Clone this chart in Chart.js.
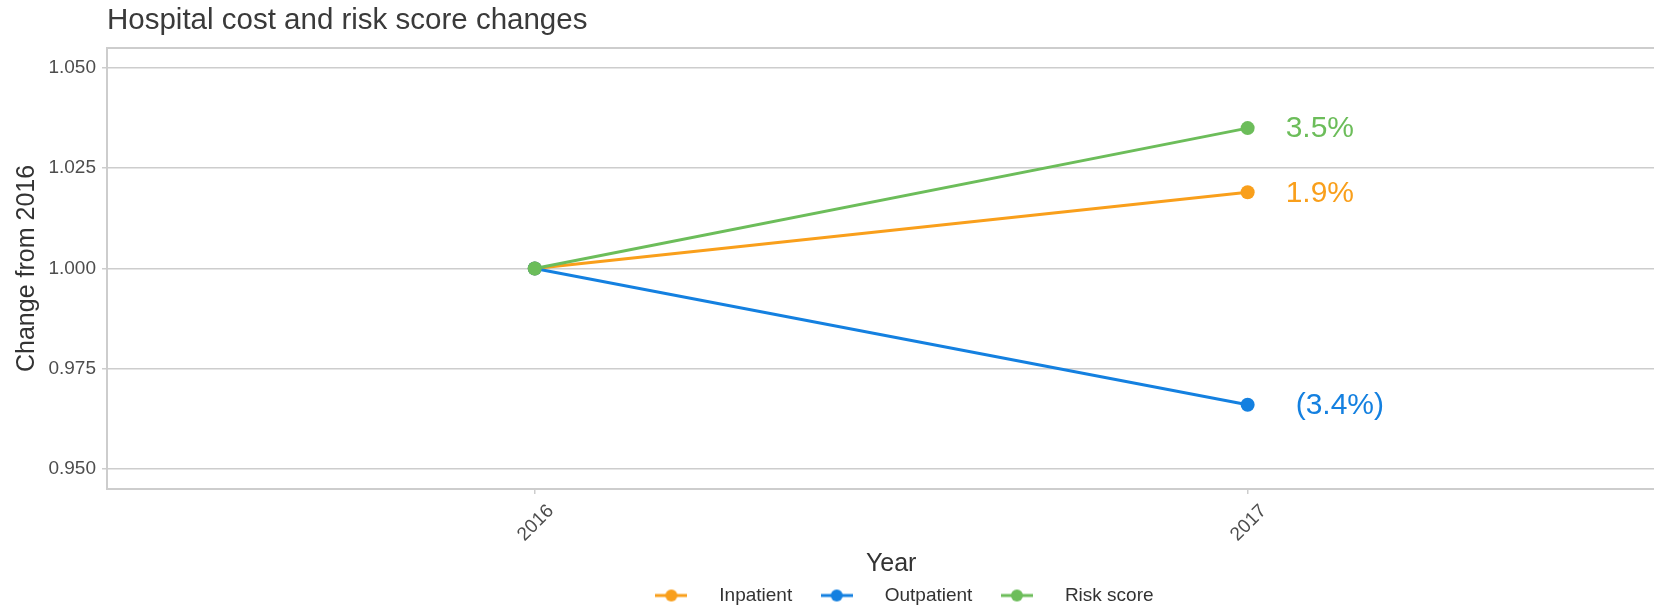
<!DOCTYPE html>
<html>
<head>
<meta charset="utf-8">
<title>Hospital cost and risk score changes</title>
<script src="https://cdn.jsdelivr.net/npm/chart.js@4.4.1/dist/chart.umd.min.js"></script>
<style>
  html, body { margin: 0; padding: 0; background: #fff; }
  #chart { display: block; }
</style>
</head>
<body>
<canvas id="chart" width="1654" height="605"></canvas>
<script>
// data
const years = [2016, 2017];
const seriesNames = ['Inpatient', 'Outpatient', 'Risk score'];
const inpatient = [1.000, 1.019];
const outpatient = [1.000, 0.966];
const riskScore = [1.000, 1.035];
const endLabels = ['1.9%', '(3.4%)', '3.5%'];
const yTicks = [0.950, 0.975, 1.000, 1.025, 1.050];

const colors = ['#f99f1b', '#1480e0', '#6cbd5a'];
const labelNudge = [38, 48, 38];
const FONT = '"Liberation Sans", Arial, sans-serif';
const GRID = '#cdcdcd';
const LEGEND_PAD = 6;

const seriesValues = [inpatient, outpatient, riskScore];
const midYear = (years[0] + years[years.length - 1]) / 2;

// legend key: a short line with a dot, like the ggplot key
function makeKey(color) {
  const c = document.createElement('canvas');
  c.width = 32; c.height = 16;
  const g = c.getContext('2d');
  g.strokeStyle = color; g.lineWidth = 3;
  g.beginPath(); g.moveTo(0, 8); g.lineTo(32, 8); g.stroke();
  g.fillStyle = color;
  g.beginPath(); g.arc(16, 8, 6, 0, Math.PI * 2); g.fill();
  return c;
}
const keys = colors.map(makeKey);

const datasets = seriesNames.map((name, i) => ({
  label: name,
  data: years.map((yr, j) => ({ x: yr, y: seriesValues[i][j] })),
  borderColor: colors[i],
  backgroundColor: colors[i],
  borderWidth: 3,
  pointRadius: 7,
  pointHoverRadius: 7,
  pointBorderWidth: 0,
  pointBackgroundColor: colors[i],
  tension: 0,
  order: seriesNames.length - i   // last series drawn on top
}));

const extras = {
  id: 'extras',
  afterLayout(chart) {
    // ggplot centres the legend on the (cropped) panel, not the canvas
    const lg = chart.legend;
    const target = chart.scales.x.getPixelForValue(midYear) - 7;
    const d = target - (lg.left + lg.right) / 2 + 1.5 * LEGEND_PAD;
    lg.left += d;
    lg.right += d;
  },
  beforeDatasetsDraw(chart) {
    const { ctx, chartArea } = chart;
    ctx.save();
    ctx.strokeStyle = GRID;
    ctx.lineWidth = 2;
    ctx.beginPath();
    ctx.moveTo(chartArea.left - 1, chartArea.top);
    ctx.lineTo(chartArea.right, chartArea.top);
    ctx.stroke();
    ctx.restore();
  },
  afterDatasetsDraw(chart) {
    const { ctx } = chart;
    ctx.save();
    ctx.font = '30px ' + FONT;
    ctx.textAlign = 'left';
    ctx.textBaseline = 'middle';
    chart.data.datasets.forEach((ds, i) => {
      const pts = chart.getDatasetMeta(i).data;
      const last = pts[pts.length - 1];
      ctx.fillStyle = colors[i];
      ctx.fillText(endLabels[i], last.x + labelNudge[i], last.y + 1);
    });
    // x axis title, centred on the panel
    ctx.font = '25px ' + FONT;
    ctx.fillStyle = '#333333';
    ctx.textAlign = 'center';
    ctx.fillText('Year', chart.scales.x.getPixelForValue(midYear), 564);
    ctx.restore();
  }
};

new Chart(document.getElementById('chart'), {
  type: 'line',
  data: { datasets },
  plugins: [extras],
  options: {
    responsive: false,
    animation: false,
    devicePixelRatio: 1,
    layout: { autoPadding: false, padding: { top: 0, left: 0, right: 0, bottom: -10 } },
    scales: {
      x: {
        type: 'linear',
        min: 2015.4,
        max: 2017.57,
        afterBuildTicks: (s) => { s.ticks = years.map(v => ({ value: v })); },
        afterFit: (s) => { s.height = 91; s.paddingLeft = 0; s.paddingRight = 0; },
        grid: { drawOnChartArea: false, drawTicks: true, tickLength: 5, color: GRID, lineWidth: 1.5 },
        border: { display: true, color: GRID, width: 2 },
        ticks: {
          minRotation: 45, maxRotation: 45,
          labelOffset: 16, padding: 6,
          color: '#4d4d4d',
          font: { family: FONT, size: 19 },
          callback: (v) => String(v)
        }
      },
      y: {
        min: 0.945,
        max: 1.055,
        afterBuildTicks: (s) => { s.ticks = yTicks.map(v => ({ value: v })); },
        afterFit: (s) => { s.width = 107; },
        grid: { color: GRID, lineWidth: 1.5, tickLength: 5 },
        border: { display: true, color: GRID, width: 2 },
        ticks: {
          padding: 6,
          color: '#4d4d4d',
          font: { family: FONT, size: 19 },
          callback: (v) => Number(v).toFixed(3)
        },
        title: {
          display: true,
          text: 'Change from 2016',
          color: '#333333',
          font: { family: FONT, size: 25 },
          padding: { top: 12, bottom: 0 }
        }
      }
    },
    plugins: {
      title: {
        display: true,
        text: 'Hospital cost and risk score changes',
        align: 'start',
        fullSize: false,
        color: '#3a3a3a',
        font: { family: FONT, size: 29.5, weight: 'normal' },
        padding: { top: 3, bottom: 9.5 }
      },
      legend: {
        position: 'bottom',
        fullSize: false,
        labels: {
          usePointStyle: true,
          pointStyleWidth: 77,
          padding: LEGEND_PAD,
          color: '#333333',
          font: { family: FONT, size: 19 },
          sort: (a, b) => a.datasetIndex - b.datasetIndex,
          generateLabels: (chart) => {
            const items = Chart.defaults.plugins.legend.labels.generateLabels(chart);
            items.forEach(it => { it.pointStyle = keys[it.datasetIndex]; it.lineWidth = 0; });
            return items;
          }
        }
      },
      tooltip: { enabled: false }
    }
  }
});
</script>
</body>
</html>
